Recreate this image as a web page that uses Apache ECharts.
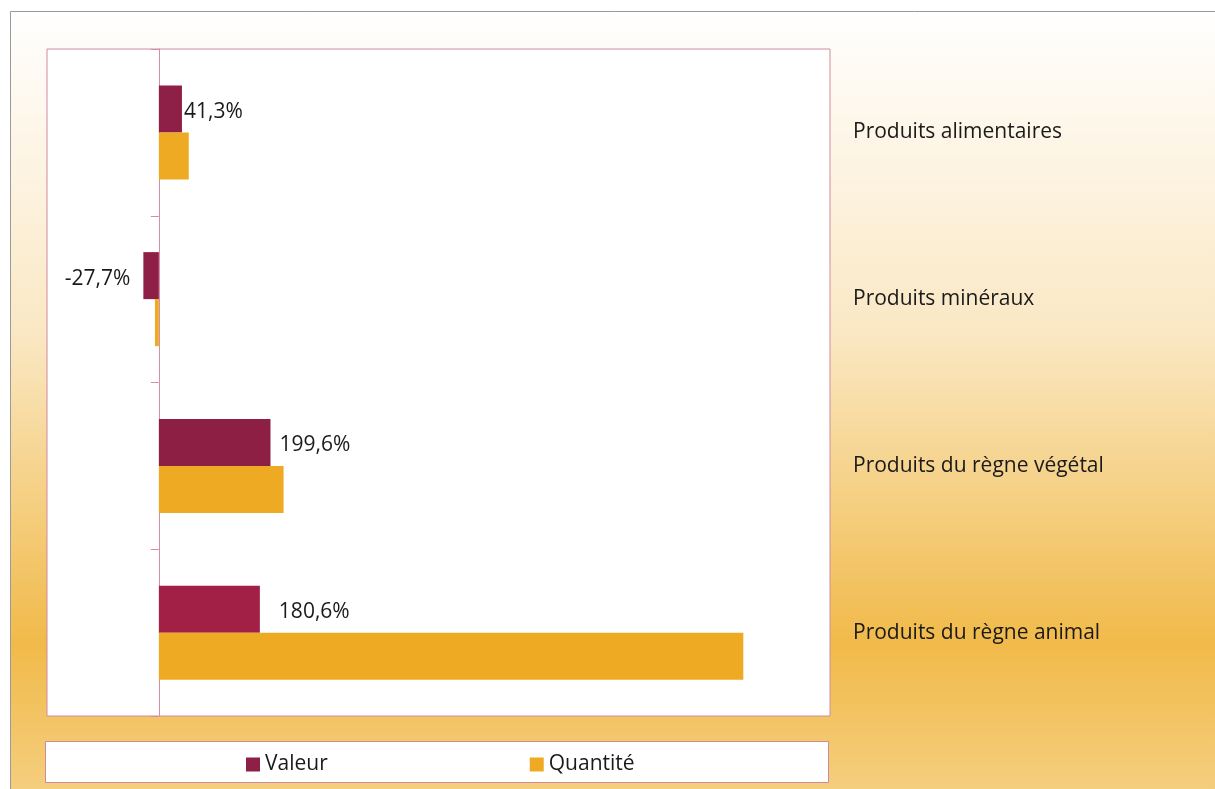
<!DOCTYPE html>
<html>
<head>
<meta charset="utf-8">
<script src="https://cdn.jsdelivr.net/npm/echarts@6/dist/echarts.min.js"></script>
<style>
html,body{margin:0;padding:0;background:#fff;}
#chart{width:1215px;height:789px;}
</style>
</head>
<body>
<div id="chart"></div>
<script>
var categories = ['Produits alimentaires', 'Produits minéraux', 'Produits du règne végétal', 'Produits du règne animal'];
var valeur = [41.3, -27.7, 199.6, 180.6];
var quantite = [53.5, -7, 223, 1045];
var seriesNames = ['Valeur', 'Quantité'];

var FONT = 'Open Sans';
var FS = 21;
var chart = echarts.init(document.getElementById('chart'));
var valeurColors = ['#8E1F47', '#8E1F47', '#8C1F43', '#A21F46'];
var labelDist = [2, 13, 9, 19];

var option = {
  animation: false,
  textStyle: { fontFamily: FONT },
  graphic: [
    {
      type: 'rect', z: -10, silent: true,
      shape: { x: 10.5, y: 11.5, width: 1220, height: 800 },
      style: {
        fill: new echarts.graphic.LinearGradient(0, 0, 0, 1, [
          { offset: 0, color: '#FFFFFF' },
          { offset: 0.4, color: '#FAE8C4' },
          { offset: 0.79, color: '#F1BA4A' },
          { offset: 1, color: '#F5D186' }
        ]),
        stroke: '#9A9A9A', lineWidth: 1
      }
    },
    {
      type: 'rect', z: -5, silent: true,
      shape: { x: 45.5, y: 741.5, width: 783, height: 41 },
      style: { fill: '#FFFFFF', stroke: '#D08A9E', lineWidth: 1 }
    }
  ],
  grid: {
    left: 47, right: 385, top: 49, bottom: 73,
    show: true, backgroundColor: '#FFFFFF', borderColor: '#D08A9E', borderWidth: 1
  },
  legend: {
    data: seriesNames,
    left: 241, top: 749,
    itemWidth: 14, itemHeight: 14, icon: 'rect', itemGap: 202,
    textStyle: { fontFamily: FONT, fontSize: FS, color: '#1A1A1A' }
  },
  xAxis: {
    type: 'value', min: -200, max: 1200,
    show: false, splitLine: { show: false }
  },
  yAxis: [
    {
      type: 'category', data: categories, inverse: true,
      axisLine: { onZero: true, lineStyle: { color: '#D48FA5' } },
      axisTick: { show: true, length: 8, lineStyle: { color: '#D48FA5' } },
      axisLabel: { show: false }
    },
    {
      type: 'category', data: categories, inverse: true, position: 'right',
      axisLine: { show: false }, axisTick: { show: false },
      axisLabel: { margin: 23, align: 'left', padding: [6, 0, 0, 0], fontFamily: FONT, fontSize: FS, color: '#1A1A1A' }
    }
  ],
  series: [
    {
      name: seriesNames[0], type: 'bar', barWidth: 47, barGap: '0%', barCategoryGap: '43%',
      itemStyle: { color: '#8E1F47' },
      data: valeur.map(function (v, i) {
        return {
          value: v,
          itemStyle: { color: valeurColors[i] },
          label: { position: v < 0 ? 'left' : 'right', distance: labelDist[i] }
        };
      }),
      label: {
        show: true, fontFamily: FONT, fontSize: FS, color: '#1A1A1A', offset: [0, 3],
        formatter: function (p) { return p.value.toFixed(1).replace('.', ',') + '%'; }
      }
    },
    {
      name: seriesNames[1], type: 'bar', barWidth: 47, barGap: '0%',
      itemStyle: { color: '#EFAA24' },
      data: quantite
    }
  ]
};
chart.setOption(option);
</script>
</body>
</html>
